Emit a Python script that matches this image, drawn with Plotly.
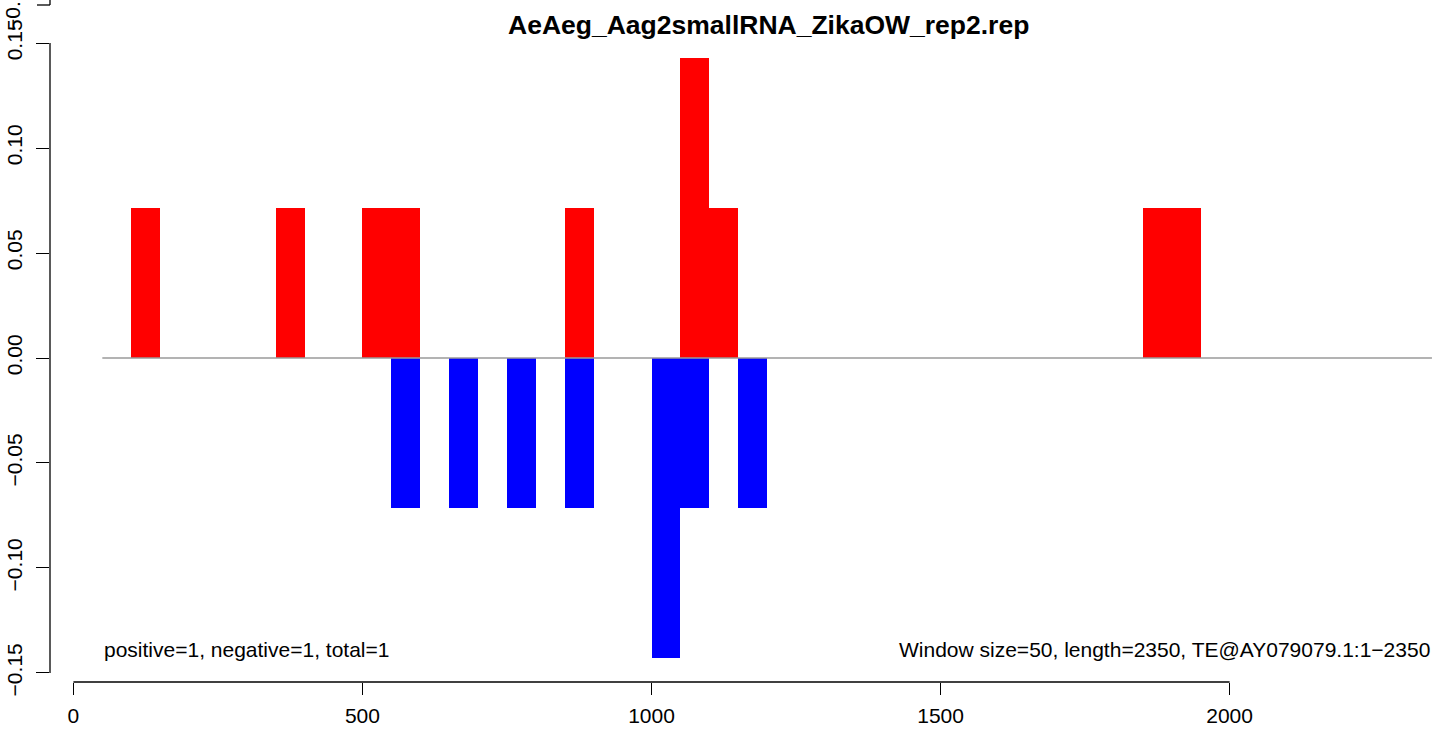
import plotly.graph_objects as go

# Sliding-window small RNA coverage along the TE (window = 50 nt)
window_size = 50
seq_start, seq_end = 50, 2350

# sense strand (red, plotted upward)
pos_start = [100, 350, 500, 550, 850, 1050, 1100, 1850, 1900]
pos_value = [0.0714, 0.0714, 0.0714, 0.0714, 0.0714, 0.1429, 0.0714, 0.0714, 0.0714]

# antisense strand (blue, plotted downward)
neg_start = [550, 650, 750, 850, 1000, 1050, 1150]
neg_value = [-0.0714, -0.0714, -0.0714, -0.0714, -0.1429, -0.0714, -0.0714]

x_ticks = [0, 500, 1000, 1500, 2000]
x_tick_labels = ["0", "500", "1000", "1500", "2000"]
y_ticks = [-0.15, -0.10, -0.05, 0.00, 0.05, 0.10, 0.15]
y_tick_labels = ["\u22120.15", "\u22120.10", "\u22120.05", "0.00", "0.05", "0.10", "0.15"]

title_text = "AeAeg_Aag2smallRNA_ZikaOW_rep2.rep"
left_note = "positive=1, negative=1, total=1"
right_note = "Window size=50, length=2350, TE@AY079079.1:1\u22122350"

W, H = 1439, 732
ML, MR, MT, MB = 50, 0, 34, 50
x_range = [-40.5, 2362.2]
y_range = [-0.1543, 0.1543]
FONT = "Liberation Sans, Arial, Helvetica, sans-serif"

fig = go.Figure()

# baseline across the whole sequence
fig.add_trace(go.Scatter(x=[seq_start, seq_end], y=[0, 0], mode="lines",
                         line=dict(color="#9a9a9a", width=1.5), hoverinfo="skip"))

fig.add_trace(go.Bar(x=[s + window_size / 2 for s in pos_start], y=pos_value,
                     width=window_size, marker=dict(color="#ff0000", line=dict(width=0))))
fig.add_trace(go.Bar(x=[s + window_size / 2 for s in neg_start], y=neg_value,
                     width=window_size, marker=dict(color="#0000ff", line=dict(width=0))))


def xpaper(v):
    return (v - x_range[0]) / (x_range[1] - x_range[0])


def ypaper(v):
    return (v - y_range[0]) / (y_range[1] - y_range[0])


plot_w = W - ML - MR
plot_h = H - MT - MB

shapes = [
    # R-style axis lines spanning only first..last tick
    dict(type="line", xref="paper", yref="paper",
         x0=xpaper(x_ticks[0]), x1=xpaper(x_ticks[-1]), y0=0, y1=0,
         line=dict(color="black", width=1.3)),
    dict(type="line", xref="paper", yref="paper",
         x0=0, x1=0, y0=ypaper(y_ticks[0]), y1=ypaper(y_ticks[-1]),
         line=dict(color="black", width=1.3)),
    # bottom end of the axis of the panel above
    dict(type="line", xref="paper", yref="paper",
         x0=0, x1=0, y0=1 + (MT - 5) / plot_h, y1=1 + (MT + 2) / plot_h,
         line=dict(color="black", width=1.3)),
    dict(type="line", xref="paper", yref="paper",
         x0=-13 / plot_w, x1=0, y0=1 + (MT - 5) / plot_h, y1=1 + (MT - 5) / plot_h,
         line=dict(color="black", width=1.3)),
]

annotations = [
    dict(text=f"<b>{title_text}</b>", xref="paper", yref="paper",
         x=0.517, y=1 + (MT - 25) / plot_h, xanchor="center", yanchor="middle",
         showarrow=False, font=dict(size=26.5, color="black", family=FONT)),
    dict(text=left_note, xref="x", yref="y", x=seq_start, y=-0.1386,
         xanchor="left", yanchor="middle", showarrow=False,
         font=dict(size=21, color="black", family=FONT)),
    dict(text=right_note, xref="x", yref="y", x=seq_end, y=-0.1386,
         xanchor="right", yanchor="middle", showarrow=False,
         font=dict(size=21, color="black", family=FONT)),
    dict(text=y_tick_labels[0], xref="paper", yref="paper",
         x=-(ML - 13) / plot_w, y=1 + (MT - 5) / plot_h, textangle=-90,
         xanchor="center", yanchor="middle", showarrow=False,
         font=dict(size=21, color="black", family=FONT)),
]

fig.update_layout(
    width=W, height=H,
    margin=dict(l=ML, r=MR, t=MT, b=MB),
    paper_bgcolor="white", plot_bgcolor="white",
    showlegend=False, barmode="overlay", bargap=0,
    font=dict(family=FONT, color="black", size=21),
    xaxis=dict(range=x_range, tickvals=x_ticks, ticktext=x_tick_labels,
               ticks="outside", ticklen=12, tickwidth=1.3, tickcolor="black",
               ticklabelstandoff=3,
               showline=False, showgrid=False, zeroline=False,
               tickfont=dict(size=21)),
    yaxis=dict(range=y_range, tickvals=y_ticks, ticktext=y_tick_labels,
               ticks="outside", ticklen=13, tickwidth=1.3, tickcolor="black",
               ticklabelstandoff=6,
               tickangle=-90, showline=False, showgrid=False, zeroline=False,
               tickfont=dict(size=21)),
    shapes=shapes, annotations=annotations,
)

fig.write_html("out.html")
